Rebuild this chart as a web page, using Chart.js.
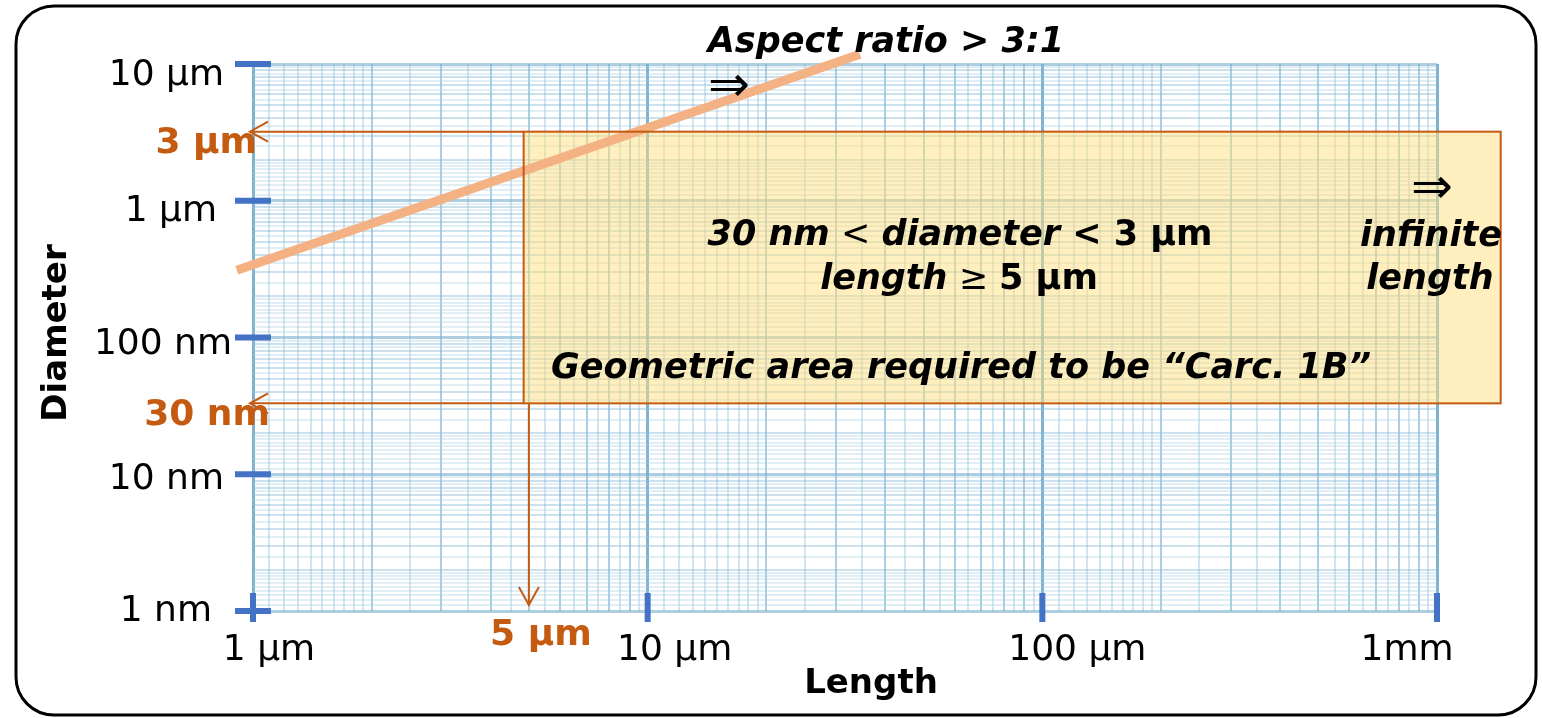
<!DOCTYPE html>
<html>
<head>
<meta charset="utf-8">
<script src="https://cdn.jsdelivr.net/npm/chart.js@4.4.1/dist/chart.umd.min.js"></script>
<style>
  html, body { margin: 0; padding: 0; background: #fff; }
  canvas { display: block; }
</style>
</head>
<body>
<canvas id="chart" width="1542" height="718"></canvas>
<script>
// axes: length in µm, diameter in nm
const lengthDecades = [1, 10, 100, 1000];
const lengthLabels = ['1 µm', '10 µm', '100 µm', '1mm'];
const diameterDecades = [1, 10, 100, 1000, 10000];
const diameterLabels = ['1 nm', '10 nm', '100 nm', '1 µm', '10 µm'];
// rulings of the log paper inside one decade
const paperSteps = [1, 1.1, 1.2, 1.3, 1.4, 1.5, 1.6, 1.7, 1.8, 1.9, 2, 2.5, 3, 3.5, 4, 4.5, 5, 5.5, 6, 6.5, 7, 7.5, 8, 8.5, 9, 9.5];

// aspect ratio 3:1 line
const aspectLength = [0.91, 34.5];      // µm
const aspectDiameter = [310, 11800];    // nm

// "Carc. 1B" region (open to the right)
const carcLength = [4.85, 1450];        // µm
const carcDiameter = [33, 3200];        // nm
const minLength = 5;                    // µm, arrow down
const limitLabels = ['30 nm', '3 µm', '5 µm'];

const FONT = '"DejaVu Sans", Verdana, sans-serif';
const ORANGE = '#c55a11';

function paperTicks(decades) {
  const out = [];
  decades.forEach((d, i) => {
    if (i === decades.length - 1) {
      out.push({ value: d });
      return;
    }
    paperSteps.forEach(s => out.push({ value: +(d * s).toPrecision(4) }));
  });
  return out;
}

// 0 = decade, 1 = whole step, 2 = half/tenth step
function rulingKind(v) {
  const m = v / Math.pow(10, Math.floor(Math.log10(v) + 1e-9));
  if (Math.abs(m - 1) < 1e-6) return 0;
  if (Math.abs(m - Math.round(m)) < 1e-6) return 1;
  return 2;
}

const vColors = ['rgba(105,165,200,0.85)', 'rgba(120,178,208,0.62)', 'rgba(150,196,220,0.42)'];
const hColors = ['rgba(120,175,205,0.6)', 'rgba(140,188,214,0.45)', 'rgba(165,203,224,0.33)'];

function drawRuns(ctx, parts, cx, cy) {
  let total = 0;
  parts.forEach(p => { ctx.font = p.f; total += ctx.measureText(p.t).width; });
  let x = cx - total / 2;
  ctx.textAlign = 'left';
  ctx.textBaseline = 'middle';
  parts.forEach(p => {
    ctx.font = p.f;
    ctx.fillText(p.t, x, cy);
    x += ctx.measureText(p.t).width;
  });
}

function chevron(ctx, x, y, dx1, dy1, dx2, dy2) {
  ctx.beginPath();
  ctx.moveTo(x + dx1, y + dy1);
  ctx.lineTo(x, y);
  ctx.lineTo(x + dx2, y + dy2);
  ctx.stroke();
}

const paperPlugin = {
  id: 'paper',
  beforeDraw(chart) {
    const ctx = chart.ctx;
    ctx.save();
    ctx.fillStyle = '#fff';
    ctx.fillRect(0, 0, chart.width, chart.height);
    ctx.restore();
  },
  beforeDatasetsDraw(chart) {
    const { ctx, scales: { x, y } } = chart;
    const l = x.getPixelForValue(carcLength[0]);
    const r = x.getPixelForValue(carcLength[1]);
    const t = y.getPixelForValue(carcDiameter[1]);
    const b = y.getPixelForValue(carcDiameter[0]);
    ctx.save();
    ctx.fillStyle = 'rgba(255,221,125,0.5)';
    ctx.fillRect(l, t, r - l, b - t);
    ctx.restore();
  },
  afterDatasetsDraw(chart) {
    const { ctx, scales: { x, y } } = chart;
    const bl = x.getPixelForValue(carcLength[0]);
    const br = x.getPixelForValue(carcLength[1]);
    const bt = y.getPixelForValue(carcDiameter[1]);
    const bb = y.getPixelForValue(carcDiameter[0]);
    ctx.save();

    // box outline
    ctx.strokeStyle = ORANGE;
    ctx.lineWidth = 2;
    ctx.strokeRect(bl, bt, br - bl, bb - bt);

    // limit arrows
    const tipX = x.left - 3;
    [bt, bb].forEach(py => {
      ctx.beginPath();
      ctx.moveTo(bl, py);
      ctx.lineTo(tipX, py);
      ctx.stroke();
      chevron(ctx, tipX, py, 18, -10, 18, 10);
    });
    const ax = x.getPixelForValue(minLength);
    const tipY = y.bottom - 6;
    ctx.beginPath();
    ctx.moveTo(ax, bb);
    ctx.lineTo(ax, tipY);
    ctx.stroke();
    chevron(ctx, ax, tipY, -10, -18, 10, -18);

    // decade tick marks
    ctx.fillStyle = '#4472c4';
    diameterDecades.forEach(v => {
      const py = y.getPixelForValue(v);
      ctx.fillRect(x.left - 18, py - 3, 36, 6);
    });
    lengthDecades.forEach(v => {
      const px = x.getPixelForValue(v);
      ctx.fillRect(px - 3, y.bottom - 18, 6, 29);
    });

    // tick labels
    ctx.fillStyle = '#000';
    ctx.font = '36px ' + FONT;
    ctx.textBaseline = 'middle';
    ctx.textAlign = 'right';
    const yNudge = [[-41, 1], [-29, 5], [-21, 7], [-36, 11], [-29, 12]];
    diameterDecades.forEach((v, i) => {
      ctx.fillText(diameterLabels[i], x.left + yNudge[i][0], y.getPixelForValue(v) + yNudge[i][1]);
    });
    ctx.textAlign = 'center';
    const xNudge = [16, 27, 35, -30];
    lengthDecades.forEach((v, i) => {
      ctx.fillText(lengthLabels[i], x.getPixelForValue(v) + xNudge[i], y.bottom + 40);
    });

    // axis titles
    ctx.font = 'bold 34px ' + FONT;
    ctx.fillText('Length', 871, 684);
    ctx.save();
    ctx.translate(57, 333);
    ctx.rotate(-Math.PI / 2);
    ctx.fillText('Diameter', 0, 0);
    ctx.restore();

    // orange limit labels
    ctx.fillStyle = ORANGE;
    ctx.font = 'bold 36px ' + FONT;
    ctx.textAlign = 'right';
    ctx.fillText(limitLabels[1], 257, bt + 12);
    ctx.fillText(limitLabels[0], 270, bb + 12);
    ctx.textAlign = 'center';
    ctx.fillText(limitLabels[2], ax + 12, y.bottom + 25);

    // text in and around the region
    ctx.fillStyle = '#000';
    const bi = 'italic bold 35px ' + FONT;
    const b = 'bold 35px ' + FONT;
    const r = '35px ' + FONT;
    drawRuns(ctx, [{ t: '30 nm', f: bi }, { t: ' < ', f: r }, { t: 'diameter', f: bi }, { t: ' < 3 µm', f: b }], 960, 236);
    drawRuns(ctx, [{ t: 'length', f: bi }, { t: ' ≥ ', f: r }, { t: '5 µm', f: b }], 959, 280);
    drawRuns(ctx, [{ t: 'Geometric area required to be “Carc. 1B”', f: bi }], 961, 369);
    drawRuns(ctx, [{ t: 'infinite', f: bi }], 1431, 237);
    drawRuns(ctx, [{ t: 'length', f: bi }], 1430, 280);
    drawRuns(ctx, [{ t: 'Aspect ratio > 3:1', f: bi }], 886, 43);
    drawRuns(ctx, [{ t: '⇒', f: '50px ' + FONT }], 1432, 190);
    drawRuns(ctx, [{ t: '⇒', f: '50px ' + FONT }], 729, 88);

    ctx.restore();
  },
  afterDraw(chart) {
    const ctx = chart.ctx;
    ctx.save();
    ctx.strokeStyle = '#000';
    ctx.lineWidth = 3;
    ctx.beginPath();
    ctx.roundRect(16, 6, 1520, 709, 38);
    ctx.stroke();
    ctx.restore();
  }
};

new Chart(document.getElementById('chart'), {
  type: 'line',
  data: {
    datasets: [{
      data: aspectLength.map((v, i) => ({ x: v, y: aspectDiameter[i] })),
      borderColor: '#f4b183',
      borderWidth: 9,
      borderCapStyle: 'butt',
      pointRadius: 0,
      clip: false
    }]
  },
  options: {
    responsive: false,
    animation: false,
    events: [],
    layout: { padding: { left: 253, right: 105, top: 64, bottom: 107 } },
    plugins: { legend: { display: false }, tooltip: { enabled: false } },
    scales: {
      x: {
        type: 'logarithmic',
        min: lengthDecades[0],
        max: lengthDecades[lengthDecades.length - 1],
        afterBuildTicks: s => { s.ticks = paperTicks(lengthDecades); },
        ticks: { display: false },
        border: { display: false },
        grid: {
          drawTicks: false,
          color: c => vColors[rulingKind(c.tick.value)],
          lineWidth: c => rulingKind(c.tick.value) === 0 ? 3 : 2
        }
      },
      y: {
        type: 'logarithmic',
        min: diameterDecades[0],
        max: diameterDecades[diameterDecades.length - 1],
        afterBuildTicks: s => { s.ticks = paperTicks(diameterDecades); },
        ticks: { display: false },
        border: { display: false },
        grid: {
          drawTicks: false,
          color: c => hColors[rulingKind(c.tick.value)],
          lineWidth: c => rulingKind(c.tick.value) === 0 ? 3 : 2
        }
      }
    }
  },
  plugins: [paperPlugin]
});
</script>
</body>
</html>
